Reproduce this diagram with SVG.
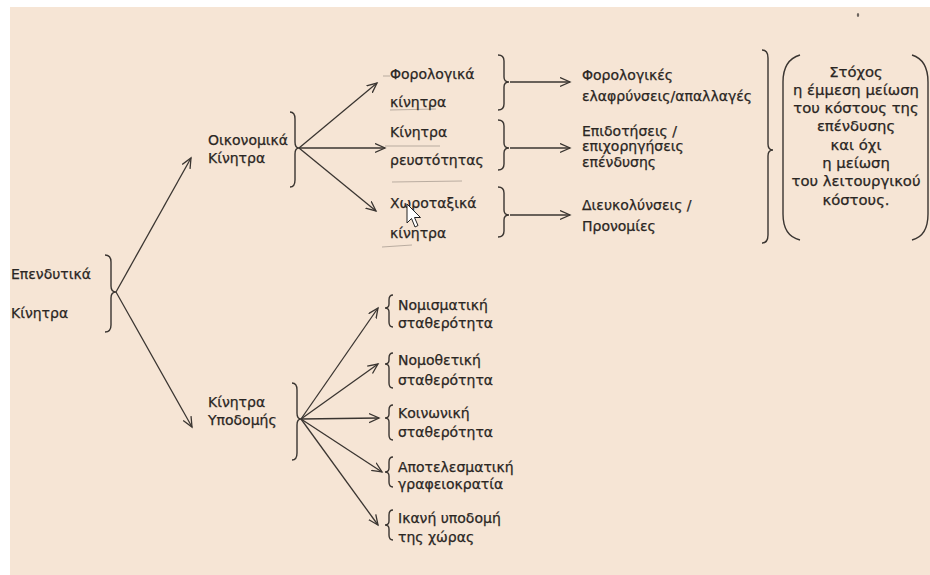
<svg xmlns="http://www.w3.org/2000/svg" width="930" height="575" viewBox="0 0 930 575">
<defs>
<style>
.t{font-family:"DejaVu Sans","Liberation Sans",sans-serif;font-size:14px;fill:#2a2623;stroke:#2a2623;stroke-width:0.25}
.c{text-anchor:middle;font-size:14.8px}
.ln{stroke:#3a3531;stroke-width:1.3;fill:none}
.br{stroke:#3a3531;stroke-width:1.4;fill:none}
.sc{stroke:#7d746c;stroke-width:1;fill:none;opacity:0.5}
</style>
<marker id="ah" markerWidth="12" markerHeight="12" refX="10" refY="5" orient="auto" markerUnits="userSpaceOnUse">
<path d="M0,0.5 L10,5 L0,9.5" fill="none" stroke="#3a3531" stroke-width="1.3"/>
</marker>
</defs>
<rect x="0" y="0" width="930" height="575" fill="#ffffff"/>
<rect x="10" y="7" width="920" height="568" fill="#f6e5d5"/>
<ellipse cx="858" cy="15" rx="1.2" ry="2" fill="#6d655e"/>

<g id="connectors">
<line class="ln" x1="116" y1="292" x2="191" y2="158" marker-end="url(#ah)"/>
<line class="ln" x1="116" y1="292" x2="192" y2="427" marker-end="url(#ah)"/>
<line class="ln" x1="299" y1="148" x2="377" y2="83" marker-end="url(#ah)"/>
<line class="ln" x1="299" y1="148" x2="385" y2="148" marker-end="url(#ah)"/>
<line class="ln" x1="299" y1="148" x2="376" y2="211" marker-end="url(#ah)"/>
<line class="ln" x1="510" y1="82" x2="570" y2="82" marker-end="url(#ah)"/>
<line class="ln" x1="510" y1="148" x2="570" y2="148" marker-end="url(#ah)"/>
<line class="ln" x1="510" y1="215" x2="570" y2="215" marker-end="url(#ah)"/>
<line class="ln" x1="301" y1="419" x2="378" y2="308" marker-end="url(#ah)"/>
<line class="ln" x1="301" y1="419" x2="378" y2="364" marker-end="url(#ah)"/>
<line class="ln" x1="301" y1="419" x2="379" y2="418" marker-end="url(#ah)"/>
<line class="ln" x1="301" y1="419" x2="382" y2="472" marker-end="url(#ah)"/>
<line class="ln" x1="301" y1="419" x2="378" y2="525" marker-end="url(#ah)"/>
</g>

<g id="scribbles">
<line class="sc" x1="383" y1="76" x2="390" y2="76"/>
<line class="sc" x1="390" y1="110" x2="436" y2="109"/>
<line class="sc" x1="385" y1="146" x2="440" y2="146"/>
<line class="sc" x1="392" y1="182" x2="462" y2="181"/>
<line class="sc" x1="382" y1="247" x2="412" y2="245"/>
</g>

<g id="n-root">
<path class="br" d="M105,255 Q111,255 111,262 L111,286 Q111,292 116,292 Q111,292 111,298 L111,325 Q111,332 105,332"/>
<text class="t" x="11" y="279">Επενδυτικά</text>
<text class="t" x="11" y="318">Κίνητρα</text>
</g>

<g id="n-oikonomika">
<path class="br" d="M290,112 Q295,112 295,119 L295,142 Q295,148 299,148 Q295,148 295,154 L295,180 Q295,187 290,187"/>
<text class="t" x="208" y="145">Οικονομικά</text>
<text class="t" x="208" y="163">Κίνητρα</text>
</g>

<g id="n-forologika">
<path class="br" d="M498,55 Q504,55 504,61 L504,77 Q504,82 509,82 Q504,82 504,87 L504,104 Q504,110 498,110"/>
<text class="t" x="390" y="79">Φορολογικά</text>
<text class="t" x="390" y="107">κίνητρα</text>
</g>

<g id="n-reustotitas">
<path class="br" d="M498,120 Q504,120 504,126 L504,143 Q504,148 509,148 Q504,148 504,153 L504,164 Q504,170 498,170"/>
<text class="t" x="390" y="137">Κίνητρα</text>
<text class="t" x="390" y="165">ρευστότητας</text>
</g>

<g id="n-xorotaxika">
<path class="br" d="M498,187 Q504,187 504,193 L504,210 Q504,215 509,215 Q504,215 504,220 L504,231 Q504,237 498,237"/>
<text class="t" x="390" y="208">Χωροταξικά</text>
<text class="t" x="390" y="238">κίνητρα</text>
</g>

<g id="n-elafrynseis">
<text class="t" x="582" y="80">Φορολογικές</text>
<text class="t" x="582" y="101">ελαφρύνσεις/απαλλαγές</text>
</g>

<g id="n-epidotiseis">
<text class="t" x="582" y="136">Επιδοτήσεις /</text>
<text class="t" x="582" y="151">επιχορηγήσεις</text>
<text class="t" x="582" y="167">επένδυσης</text>
</g>

<g id="n-dieukolynseis">
<text class="t" x="582" y="210">Διευκολύνσεις /</text>
<text class="t" x="582" y="231">Προνομίες</text>
</g>

<g id="n-stoxos">
<path class="br" d="M762,50 Q768,50 768,58 L768,144 Q768,150 773,150 Q768,150 768,156 L768,235 Q768,243 762,243"/>
<path class="br" d="M800,55 Q783,60 783,82 L783,214 Q783,236 800,240"/>
<path class="br" d="M912,55 Q928,60 928,82 L928,214 Q928,236 912,240"/>
<text class="t c" x="856" y="77">Στόχος</text>
<text class="t c" x="856" y="95">η έμμεση μείωση</text>
<text class="t c" x="856" y="113">του κόστους της</text>
<text class="t c" x="856" y="131">επένδυσης</text>
<text class="t c" x="856" y="150">και όχι</text>
<text class="t c" x="856" y="168">η μείωση</text>
<text class="t c" x="856" y="186">του λειτουργικού</text>
<text class="t c" x="856" y="205">κόστους.</text>
</g>

<g id="n-ypodomis">
<path class="br" d="M292,383 Q297,383 297,390 L297,413 Q297,419 301,419 Q297,419 297,425 L297,453 Q297,460 292,460"/>
<text class="t" x="208" y="407">Κίνητρα</text>
<text class="t" x="208" y="425">Υποδομής</text>
</g>

<g id="n-nomismatiki">
<path class="br" d="M393,295 Q389,295 389,300 L389,304 Q389,308 385,308 Q389,308 389,312 L389,322 Q389,327 393,327"/>
<text class="t" x="398" y="310">Νομισματική</text>
<text class="t" x="398" y="328">σταθερότητα</text>
</g>

<g id="n-nomothetiki">
<path class="br" d="M393,353 Q389,353 389,358 L389,360 Q389,364 385,364 Q389,364 389,368 L389,383 Q389,388 393,388"/>
<text class="t" x="398" y="365">Νομοθετική</text>
<text class="t" x="398" y="385">σταθερότητα</text>
</g>

<g id="n-koinoniki">
<path class="br" d="M393,405 Q389,405 389,410 L389,414 Q389,418 385,418 Q389,418 389,422 L389,435 Q389,440 393,440"/>
<text class="t" x="398" y="418">Κοινωνική</text>
<text class="t" x="398" y="437">σταθερότητα</text>
</g>

<g id="n-grafeiokratia">
<path class="br" d="M393,457 Q389,457 389,462 L389,468 Q389,472 385,472 Q389,472 389,476 L389,482 Q389,487 393,487"/>
<text class="t" x="398" y="472">Αποτελεσματική</text>
<text class="t" x="398" y="489">γραφειοκρατία</text>
</g>

<g id="n-ypodomi">
<path class="br" d="M393,510 Q389,510 389,515 L389,521 Q389,525 385,525 Q389,525 389,529 L389,535 Q389,540 393,540"/>
<text class="t" x="398" y="523">Ικανή υποδομή</text>
<text class="t" x="398" y="542">της χώρας</text>
</g>

<path d="M407,204 L407,223 L411.5,218.5 L415,227 L418,225.5 L414.5,217.5 L420.5,217.5 Z" fill="#ffffff" stroke="#222" stroke-width="1"/>
</svg>
